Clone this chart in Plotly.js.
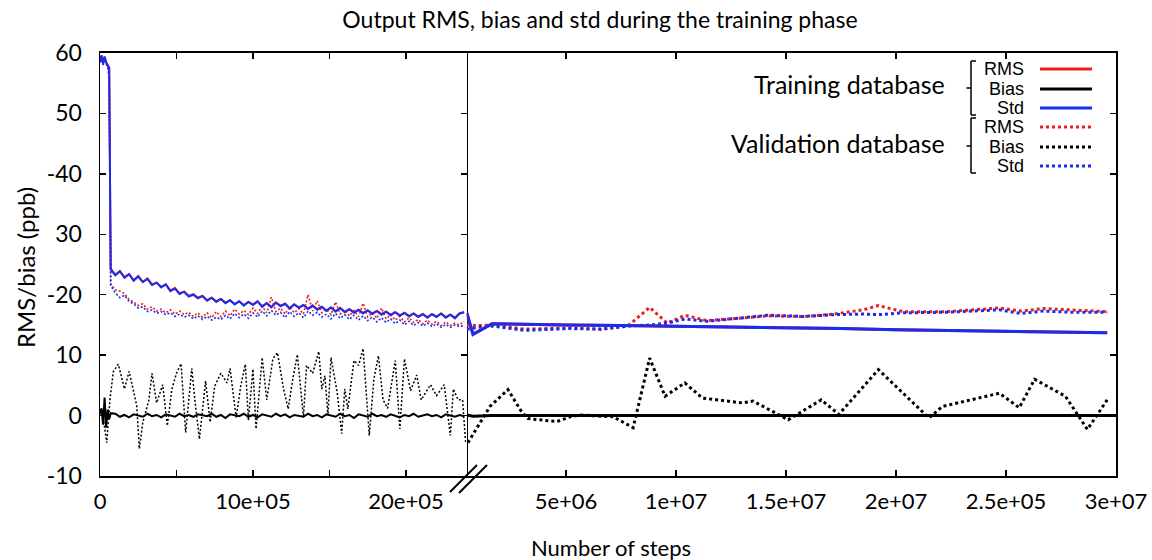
<!DOCTYPE html>
<html><head><meta charset="utf-8">
<script src="https://cdn.plot.ly/plotly-3.0.1.min.js"></script>
<style>html,body{margin:0;padding:0;background:#fff;}#chart{width:1152px;height:560px;}</style>
</head><body><div id="chart"></div>
<script>
// ---------- DATA ----------
const stepsLeft = [0, 1e4, 2e4, 3e4, 4e4, 5e4, 6e4, 7e4,
  1e5, 1.3e5, 1.6e5, 1.9e5, 2.2e5, 2.5e5, 2.8e5, 3.1e5, 3.4e5, 3.7e5,
  4e5, 4.3e5, 4.6e5, 4.9e5, 5.2e5, 5.5e5, 5.8e5, 6.1e5, 6.4e5, 6.7e5,
  7e5, 7.3e5, 7.6e5, 7.9e5, 8.2e5, 8.5e5, 8.8e5, 9.1e5, 9.4e5, 9.7e5,
  1e6, 1.03e6, 1.06e6, 1.09e6, 1.12e6, 1.15e6, 1.18e6, 1.21e6, 1.24e6, 1.27e6,
  1.3e6, 1.33e6, 1.36e6, 1.39e6, 1.42e6, 1.45e6, 1.48e6, 1.51e6, 1.54e6, 1.57e6,
  1.6e6, 1.63e6, 1.66e6, 1.69e6, 1.72e6, 1.75e6, 1.78e6, 1.81e6, 1.84e6, 1.87e6,
  1.9e6, 1.93e6, 1.96e6, 1.99e6, 2.02e6, 2.05e6, 2.08e6, 2.11e6, 2.14e6, 2.17e6,
  2.2e6, 2.23e6, 2.26e6, 2.29e6, 2.32e6, 2.35e6, 2.38e6];

const trainStdLeft = [58.6, 59.6, 58.2, 59.4, 58.4, 58.0, 57.5, 24.2,
  23.2, 23.9, 22.8, 23.4, 22.3, 23.0, 22.1, 22.6, 21.6, 22.0,
  21.2, 21.7, 20.6, 21.0, 20.1, 20.5, 19.7, 20.0, 19.4, 19.8,
  19.0, 19.5, 18.8, 19.3, 18.6, 19.1, 18.4, 18.9, 18.2, 18.8,
  18.3, 18.9, 18.0, 18.6, 17.9, 18.7, 18.1, 18.5, 17.7, 18.4,
  17.8, 18.3, 17.6, 18.2, 17.5, 18.0, 17.3, 17.9, 17.2, 17.8,
  17.1, 17.6, 17.0, 17.5, 16.9, 17.4, 16.8, 17.3, 16.7, 17.2,
  16.6, 17.1, 16.5, 17.0, 16.4, 16.9, 16.3, 16.8, 16.2, 16.8,
  16.3, 16.9, 16.2, 16.7, 16.1, 16.9, 17.1];

const trainRmsLeft = [58.7, 59.6, 58.3, 59.4, 58.5, 58.1, 57.6, 24.3,
  23.3, 23.9, 22.9, 23.4, 22.4, 23.1, 22.1, 22.7, 21.7, 22.0,
  21.3, 21.7, 20.7, 21.1, 20.2, 20.5, 19.8, 20.1, 19.5, 19.8,
  19.1, 19.5, 18.9, 19.3, 18.7, 19.1, 18.5, 18.9, 18.3, 18.8,
  18.4, 18.9, 18.1, 18.6, 18.0, 18.7, 18.2, 18.5, 17.8, 18.4,
  17.9, 18.3, 17.7, 18.2, 17.6, 18.0, 17.4, 17.9, 17.3, 17.8,
  17.2, 17.6, 17.1, 17.5, 17.0, 17.4, 16.9, 17.3, 16.8, 17.2,
  16.7, 17.1, 16.6, 17.0, 16.5, 16.9, 16.4, 16.8, 16.3, 16.8,
  16.4, 16.9, 16.3, 16.7, 16.2, 16.9, 17.1];

const trainBiasLeft = [0.2, 1.2, -1.5, 3.0, -2.0, 1.0, -0.6, 0.4,
  0.3, -0.2, 0.1, -0.3, 0.2, 0.0, -0.2, 0.3, -0.1, 0.1,
  -0.3, 0.2, 0.0, -0.2, 0.3, -0.1, 0.1, -0.2, 0.2, 0.0,
  -0.1, 0.3, -0.2, 0.1, -0.4, 0.2, 0.0, -0.1, 0.3, -0.2,
  0.1, -0.3, 0.2, 0.0, -0.2, 0.3, -0.1, 0.2, -0.3, 0.1,
  0.0, -0.2, 0.3, -0.1, 0.1, -0.3, 0.2, 0.0, -0.2, 0.3,
  -0.1, 0.1, -0.4, 0.2, 0.0, -0.2, 0.3, -0.1, 0.1, -0.2,
  0.2, 0.0, -0.3, 0.1, -0.1, 0.3, -0.2, 0.0, 0.2, -0.1,
  0.1, -0.3, 0.2, 0.0, -0.2, 0.1, -0.1];

const valStdLeft = [58.4, 59.2, 58.0, 59.0, 58.2, 57.6, 56.0, 21.5,
  20.3, 19.5, 19.9, 18.9, 18.5, 17.8, 18.0, 17.2, 17.5, 16.9,
  17.2, 16.7, 17.0, 16.4, 16.8, 16.3, 16.6, 16.0, 16.5, 15.9,
  16.4, 15.8, 16.3, 15.9, 16.6, 16.0, 16.9, 16.2, 16.8, 16.1,
  17.0, 16.3, 17.3, 16.5, 17.4, 16.6, 17.1, 16.2, 17.2, 16.4,
  17.0, 16.2, 17.3, 16.6, 17.1, 16.3, 16.8, 16.0, 16.9, 16.1,
  16.7, 15.9, 16.6, 15.8, 16.5, 15.7, 16.3, 15.5, 16.2, 15.4,
  16.0, 15.2, 15.8, 15.0, 15.6, 14.9, 15.4, 14.8, 15.3, 14.7,
  15.2, 14.6, 15.1, 14.6, 15.0, 14.7, 14.9];

const valRmsLeft = [58.5, 59.3, 58.1, 59.1, 58.3, 57.8, 56.2, 21.8,
  20.8, 20.6, 20.2, 19.2, 18.8, 18.2, 18.5, 17.6, 18.0, 17.3,
  17.6, 17.0, 17.5, 16.8, 17.3, 16.7, 17.1, 16.4, 17.0, 16.3,
  17.0, 16.2, 17.2, 16.4, 17.3, 16.5, 17.6, 16.8, 17.4, 16.7,
  17.8, 16.9, 18.1, 17.0, 19.6, 17.2, 17.8, 16.8, 18.0, 17.0,
  17.7, 16.8, 20.0, 17.3, 19.0, 17.0, 17.6, 16.7, 18.8, 16.8,
  17.5, 16.5, 17.4, 16.4, 18.6, 16.3, 17.0, 16.1, 17.8, 16.0,
  16.7, 15.8, 16.4, 15.5, 16.2, 15.4, 15.9, 15.2, 15.8, 15.1,
  15.6, 14.9, 15.5, 14.9, 15.3, 15.0, 15.6];

const stepsValBiasLeft = [0, 1.5e4, 3e4, 4.4e4, 6.5e4, 8.7e4, 1.2e5, 1.4e5, 1.6e5, 1.9e5,
  2.2e5, 2.4e5, 2.57e5, 2.8e5, 3.2e5, 3.4e5, 3.7e5, 4.1e5, 4.4e5, 4.7e5,
  5e5, 5.3e5, 5.6e5, 6e5, 6.2e5, 6.5e5, 6.9e5, 7.2e5, 7.5e5, 7.9e5,
  8.3e5, 8.5e5, 8.9e5, 9.2e5, 9.5e5, 9.7e5, 1e6, 1.02e6, 1.06e6, 1.09e6,
  1.13e6, 1.16e6, 1.2e6, 1.23e6, 1.26e6, 1.29e6, 1.33e6, 1.35e6, 1.39e6, 1.43e6,
  1.45e6, 1.47e6, 1.49e6, 1.51e6, 1.55e6, 1.58e6, 1.6e6, 1.62e6, 1.66e6, 1.69e6,
  1.72e6, 1.74e6, 1.76e6, 1.79e6, 1.82e6, 1.85e6, 1.88e6, 1.93e6, 1.96e6, 1.99e6,
  2.03e6, 2.07e6, 2.1e6, 2.16e6, 2.2e6, 2.25e6, 2.29e6, 2.31e6, 2.34e6, 2.37e6, 2.39e6];
const valBiasLeft = [0.5, 1.0, -2.0, -4.5, 2.6, 7.3, 8.5, 6.6, 4.4, 7.3,
  3.9, 1.7, -5.5, -1.1, 2.6, 7.0, 2.1, 5.1, -1.7, 4.4,
  7.0, 8.6, -2.8, 7.8, 2.6, -3.9, 5.7, -1.1, 4.9, 7.0,
  5.4, 7.8, -0.3, 4.9, 8.5, -0.8, 7.7, -2.2, 9.6, 2.6,
  9.4, 10.4, 4.4, 1.1, 6.0, 10.1, -0.3, 8.3, 7.0, 10.6,
  4.4, 6.6, 0.0, 9.6, 3.9, -3.0, 4.4, 1.1, 9.1, 8.3,
  11.1, 4.4, -3.3, 6.0, 9.9, 2.6, 1.2, 9.1, -2.2, 9.4,
  4.1, 6.7, 2.6, 5.1, 3.3, 5.1, -3.3, 4.4, 2.6, 2.6, -4.5];

const stepsTrainRight = [4.9e5, 7.7e5, 1.64e6, 3e6, 5e6, 7.5e6, 1e7, 1.25e7, 1.5e7, 1.75e7, 2e7, 2.25e7, 2.5e7, 2.75e7, 2.96e7];
const trainStdRight  = [17.0, 13.4, 15.2, 15.1, 15.0, 14.9, 14.8, 14.7, 14.5, 14.4, 14.2, 14.1, 14.0, 13.8, 13.7];
const trainRmsRight  = [17.0, 13.5, 15.2, 15.1, 15.0, 14.9, 14.8, 14.7, 14.5, 14.4, 14.2, 14.1, 14.0, 13.8, 13.7];
const stepsTrainBiasRight = [4.9e5, 7.7e5, 1.64e6, 3e6, 5e6, 7.5e6, 1e7, 1.25e7, 1.5e7, 1.75e7, 2e7, 2.25e7, 2.5e7, 2.75e7, 3e7];
const trainBiasRight = [0.1, -0.1, 0.0, 0.0, 0.0, 0.0, 0.0, 0.0, 0.0, 0.0, 0.0, 0.0, 0.0, 0.0, 0.0];

const stepsValRight = [4.9e5, 1.0e6, 1.7e6, 3.1e6, 5.1e6, 6.6e6, 7.8e6, 8.8e6, 9.6e6, 1.04e7, 1.14e7, 1.3e7,
  1.42e7, 1.58e7, 1.72e7, 1.85e7, 1.92e7, 2.03e7, 2.23e7, 2.47e7, 2.57e7, 2.67e7, 2.8e7, 2.96e7];
const valStdRight = [14.3, 14.6, 14.8, 14.1, 14.4, 14.3, 14.8, 15.0, 15.3, 16.0, 15.6, 16.2,
  16.6, 16.4, 16.7, 16.8, 16.7, 17.0, 17.1, 17.5, 16.9, 17.3, 17.1, 17.1];
const valRmsRight = [15.0, 14.9, 15.0, 14.3, 14.5, 14.3, 14.8, 17.9, 15.3, 16.6, 15.7, 16.1,
  16.5, 16.4, 16.8, 17.5, 18.2, 17.2, 17.2, 17.8, 17.3, 17.7, 17.5, 17.2];

const stepsValBiasRight = [5.4e5, 1.54e6, 2.36e6, 3.0e6, 3.27e6, 4.59e6, 5.18e6, 5.64e6, 7.14e6, 8.05e6,
  8.8e6, 9.5e6, 1.04e7, 1.12e7, 1.3e7, 1.35e7, 1.51e7, 1.66e7, 1.74e7, 1.92e7,
  2.15e7, 2.21e7, 2.47e7, 2.56e7, 2.63e7, 2.77e7, 2.87e7, 2.96e7];
const valBiasRight = [-4.5, 1.5, 4.3, 0.5, -0.5, -1.0, -0.2, 0.1, -0.2, -2.0,
  9.5, 3.2, 5.4, 2.9, 2.1, 2.4, -0.7, 2.6, 0.2, 7.6,
  -0.4, 1.5, 3.7, 1.3, 6.0, 3.2, -2.3, 2.6];

const yTickVals = [-10, 0, 10, 20, 30, 40, 50, 60];
const yTickText = ['-10', '0', '10', '-20', '30', '-40', '50', '60'];
const xLeftTickVals = [0, 5e5, 1e6, 1.5e6, 2e6];
const xLeftTickText = ['0', '', '10e+05', '', '20e+05'];
const xRightTickVals = [5e6, 1e7, 1.5e7, 2e7, 2.5e7, 3e7];
const xRightTickText = ['5e+06', '1e+07', '1.5e+07', '2e+07', '2.5e+05', '3e+07'];

const legendGroups = ['Training database', 'Validation database'];
const legendLabels = ['RMS', 'Bias', 'Std', 'RMS', 'Bias', 'Std'];

// ---------- STYLE ----------
const RED = 'rgb(235,30,30)', BLUE = 'rgb(25,45,240)', BLACK = '#000';
const FONT = 'Lato, "Open Sans", sans-serif';
const L = 100, R = 1116, T = 53, B = 476;
const PX = x => (x - L) / (R - L);
const PY = y => (B - y) / (B - T);
const split = PX(466.7);

function tr(x, y, color, dash, width, right) {
  return {x: x, y: y, type: 'scatter', mode: 'lines',
    xaxis: right ? 'x2' : 'x', yaxis: right ? 'y2' : 'y',
    line: {color: color, dash: dash, width: width}, showlegend: false, hoverinfo: 'skip'};
}
const dotL = '2px,2px', dotR = '3px,3px';
const data = [
  tr(stepsValBiasLeft, valBiasLeft, BLACK, dotL, 1.5, false),
  tr(stepsValBiasRight, valBiasRight, BLACK, dotR, 3, true),
  tr(stepsLeft, trainBiasLeft, BLACK, 'solid', 2, false),
  tr(stepsTrainBiasRight, trainBiasRight, BLACK, 'solid', 3, true),
  tr(stepsLeft, valRmsLeft, RED, dotL, 1.6, false),
  tr(stepsValRight, valRmsRight, RED, dotR, 3, true),
  tr(stepsLeft, valStdLeft, BLUE, dotL, 1.6, false),
  tr(stepsValRight, valStdRight, BLUE, dotR, 3, true),
  tr(stepsLeft, trainRmsLeft, RED, 'solid', 2, false),
  tr(stepsTrainRight, trainRmsRight, RED, 'solid', 3, true),
  tr(stepsLeft, trainStdLeft, BLUE, 'solid', 2, false),
  tr(stepsTrainRight, trainStdRight, BLUE, 'solid', 3, true)
];

const axCommon = {showgrid: false, zeroline: false, showline: true, linecolor: '#000', linewidth: 2,
  ticks: 'inside', ticklen: 6, tickwidth: 1.5, tickcolor: '#000'};

const shapes = [];
const annotations = [];
// axis break marks
[[450, 492, 477, 465], [459, 493, 487, 465]].forEach(s => shapes.push({type: 'line', xref: 'paper', yref: 'paper',
  x0: PX(s[0]), y0: PY(s[1]), x1: PX(s[2]), y1: PY(s[3]), line: {color: '#000', width: 2}}));
// legend
const legY = [69, 89, 108, 127, 147, 166];
const legColor = [RED, BLACK, BLUE, RED, BLACK, BLUE];
legendLabels.forEach((lab, i) => {
  annotations.push({xref: 'paper', yref: 'paper', x: PX(1026), y: PY(legY[i]), xanchor: 'right', yanchor: 'middle',
    text: lab, showarrow: false, font: {family: '"Liberation Sans", Arial, sans-serif', size: 18, color: '#000'}});
  shapes.push({type: 'line', xref: 'paper', yref: 'paper', x0: PX(1040), x1: PX(1092), y0: PY(legY[i]), y1: PY(legY[i]),
    line: {color: legColor[i], width: 3, dash: i < 3 ? 'solid' : '3px,3px'}});
});
const grpY = [84, 143];
const brk = [[61, 115, 88], [118, 173, 146]];
legendGroups.forEach((g, i) => {
  annotations.push({xref: 'paper', yref: 'paper', x: PX(947), y: PY(grpY[i]), xanchor: 'right', yanchor: 'middle',
    text: g, showarrow: false, font: {family: FONT, size: 25, color: '#000'}});
  const b = brk[i];
  const pts = [[971, b[0], 971, b[1]], [971, b[0], 976, b[0]], [971, b[1], 976, b[1]], [966.5, b[2], 971, b[2]]];
  pts.forEach(p => shapes.push({type: 'line', xref: 'paper', yref: 'paper', x0: PX(p[0]), y0: PY(p[1]), x1: PX(p[2]), y1: PY(p[3]),
    line: {color: '#000', width: 1.5}}));
});
annotations.push({xref: 'paper', yref: 'paper', x: PX(611), y: PY(547), xanchor: 'center', yanchor: 'middle',
  text: 'Number of steps', showarrow: false, font: {family: FONT, size: 22, color: '#000'}});
annotations.push({xref: 'paper', yref: 'paper', x: PX(25), y: PY(268), xanchor: 'center', yanchor: 'middle', textangle: -90,
  text: 'RMS/bias (ppb)', showarrow: false, font: {family: FONT, size: 24, color: '#000'}});

const layout = {
  width: 1152, height: 560,
  margin: {l: L, r: 1152 - R, t: T, b: 560 - B, pad: 0},
  paper_bgcolor: '#fff', plot_bgcolor: '#fff',
  showlegend: false,
  title: {text: 'Output RMS, bias and std during the training phase', xref: 'container', x: 600 / 1152, xanchor: 'center',
    yref: 'container', y: 1 - 20 / 560, yanchor: 'middle', font: {family: FONT, size: 23, color: '#000'}},
  xaxis: Object.assign({}, axCommon, {domain: [0, split], range: [0, 2.397e6], anchor: 'y', mirror: 'ticks',
    tickmode: 'array', tickvals: xLeftTickVals, ticktext: xLeftTickText, ticklabelstandoff: 5,
    tickfont: {family: FONT, size: 22, color: '#000'}}),
  xaxis2: Object.assign({}, axCommon, {domain: [split, 1], range: [4.84e5, 3e7], anchor: 'y2', mirror: 'ticks',
    tickmode: 'array', tickvals: xRightTickVals, ticktext: xRightTickText, ticklabelstandoff: 5,
    tickfont: {family: FONT, size: 22, color: '#000'}}),
  yaxis: Object.assign({}, axCommon, {range: [-10, 60], anchor: 'x', mirror: 'ticks', linewidth: 1.5, tickmode: 'array',
    tickvals: yTickVals, ticktext: yTickText, ticklabelstandoff: 12, tickfont: {family: FONT, size: 23, color: '#000'}}),
  yaxis2: Object.assign({}, axCommon, {range: [-10, 60], anchor: 'x2', side: 'right', mirror: false, tickmode: 'array',
    tickvals: yTickVals, showticklabels: false}),
  shapes: shapes, annotations: annotations
};

Plotly.newPlot('chart', data, layout, {displayModeBar: false, staticPlot: true});
</script></body></html>
